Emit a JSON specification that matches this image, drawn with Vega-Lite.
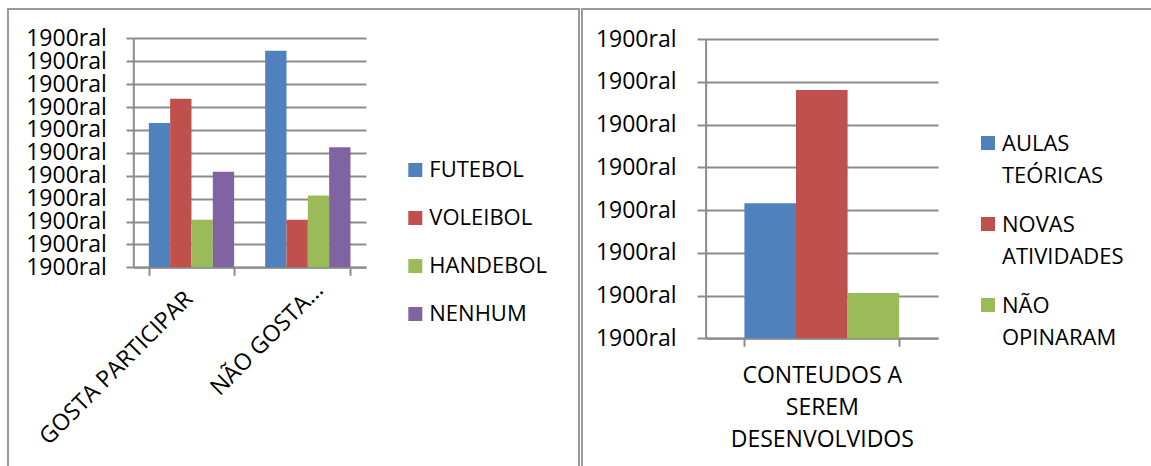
{
  "$schema": "https://vega.github.io/schema/vega-lite/v6.json",
  "background": "white",
  "padding": {"left": 7, "top": 8, "right": 0, "bottom": 0},
  "spacing": 1,
  "resolve": {"scale": {"color": "independent", "xOffset": "independent"}},
  "config": {
    "view": {"stroke": "#9a9a9a", "strokeWidth": 2},
    "font": "Open Sans",
    "axis": {
      "title": null,
      "labelFont": "Open Sans",
      "labelFontSize": 23,
      "labelColor": "#000000",
      "labelLimit": 400,
      "labelOverlap": false,
      "labelFlush": false,
      "domainColor": "#8c8c8c",
      "domainWidth": 2,
      "tickColor": "#8c8c8c",
      "tickWidth": 2,
      "gridColor": "#8c8c8c",
      "gridWidth": 2
    },
    "legend": {
      "title": null,
      "labelFont": "Open Sans",
      "labelFontSize": 22,
      "labelColor": "#000000",
      "labelLimit": 300,
      "symbolType": "square",
      "symbolStrokeWidth": 0,
      "symbolOpacity": 1,
      "padding": 0,
      "orient": "none"
    }
  },
  "hconcat": [
    {
      "width": 571,
      "height": 470,
      "data": {
        "values": [
          {"grupo": "GOSTA PARTICIPAR", "esporte": "FUTEBOL", "valor": 6.3},
          {"grupo": "GOSTA PARTICIPAR", "esporte": "VOLEIBOL", "valor": 7.36},
          {"grupo": "GOSTA PARTICIPAR", "esporte": "HANDEBOL", "valor": 2.08},
          {"grupo": "GOSTA PARTICIPAR", "esporte": "NENHUM", "valor": 4.17},
          {"grupo": "NÃO GOSTA...", "esporte": "FUTEBOL", "valor": 9.46},
          {"grupo": "NÃO GOSTA...", "esporte": "VOLEIBOL", "valor": 2.08},
          {"grupo": "NÃO GOSTA...", "esporte": "HANDEBOL", "valor": 3.14},
          {"grupo": "NÃO GOSTA...", "esporte": "NENHUM", "valor": 5.24}
        ]
      },
      "mark": {"type": "bar"},
      "encoding": {
        "x": {
          "field": "grupo",
          "type": "nominal",
          "scale": {
            "domain": ["GOSTA PARTICIPAR", "NÃO GOSTA..."],
            "range": [125.3, 358],
            "paddingInner": 0.267,
            "paddingOuter": 0.1335
          },
          "axis": {
            "orient": "bottom",
            "offset": -211.7,
            "labelAngle": -45,
            "tickBand": "extent",
            "tickSize": 8,
            "labelPadding": {"condition": {"test": "datum.value == 'GOSTA PARTICIPAR'", "value": 12}, "value": 3},
            "labelOffset": {"condition": {"test": "datum.value == 'GOSTA PARTICIPAR'", "value": -10.6}, "value": 3.5}
          }
        },
        "xOffset": {
          "field": "esporte",
          "type": "nominal",
          "scale": {
            "domain": ["FUTEBOL", "VOLEIBOL", "HANDEBOL", "NENHUM"],
            "paddingInner": 0,
            "paddingOuter": 0
          }
        },
        "y": {
          "field": "valor",
          "type": "quantitative",
          "scale": {"domain": [0, 10], "range": [258.3, 29.3], "nice": false},
          "axis": {
            "values": [0, 1, 2, 3, 4, 5, 6, 7, 8, 9, 10],
            "offset": -125.3,
            "labelExpr": "'1900ral'",
            "tickSize": 7.3,
            "labelPadding": 19.7,
            "grid": true
          }
        },
        "color": {
          "field": "esporte",
          "type": "nominal",
          "scale": {
            "domain": ["FUTEBOL", "VOLEIBOL", "HANDEBOL", "NENHUM"],
            "range": ["#4F81BD", "#C0504D", "#9BBB59", "#8064A2"]
          },
          "legend": {
            "legendX": 396.3,
            "legendY": 150,
            "symbolSize": 196,
            "labelOffset": 3,
            "rowPadding": 26
          }
        }
      }
    },
    {
      "width": 580,
      "height": 470,
      "data": {
        "values": [
          {"conteudo": "CONTEUDOS A SEREM DESENVOLVIDOS", "opcao": "AULAS TEÓRICAS", "valor": 3.16},
          {"conteudo": "CONTEUDOS A SEREM DESENVOLVIDOS", "opcao": "NOVAS ATIVIDADES", "valor": 5.81},
          {"conteudo": "CONTEUDOS A SEREM DESENVOLVIDOS", "opcao": "NÃO OPINARAM", "valor": 1.06}
        ]
      },
      "mark": {"type": "bar"},
      "encoding": {
        "x": {
          "field": "conteudo",
          "type": "nominal",
          "scale": {
            "domain": ["CONTEUDOS A SEREM DESENVOLVIDOS"],
            "range": [123.6, 356],
            "paddingInner": 0.334,
            "paddingOuter": 0.167
          },
          "axis": {
            "orient": "bottom",
            "offset": -140.7,
            "labelAngle": 0,
            "labelAlign": "center",
            "labelBaseline": "top",
            "labelLineHeight": 32,
            "labelExpr": "datum.label == 'CONTEUDOS A SEREM DESENVOLVIDOS' ? ['CONTEUDOS A', 'SEREM', 'DESENVOLVIDOS'] : datum.label",
            "tickBand": "extent",
            "tickSize": 8,
            "labelPadding": 18
          }
        },
        "xOffset": {
          "field": "opcao",
          "type": "nominal",
          "scale": {
            "domain": ["AULAS TEÓRICAS", "NOVAS ATIVIDADES", "NÃO OPINARAM"],
            "paddingInner": 0,
            "paddingOuter": 0
          }
        },
        "y": {
          "field": "valor",
          "type": "quantitative",
          "scale": {"domain": [0, 7], "range": [329.3, 30], "nice": false},
          "axis": {
            "values": [0, 1, 2, 3, 4, 5, 6, 7],
            "offset": -123.6,
            "labelExpr": "'1900ral'",
            "tickSize": 8.6,
            "labelPadding": 21,
            "grid": true
          }
        },
        "color": {
          "field": "opcao",
          "type": "nominal",
          "scale": {
            "domain": ["AULAS TEÓRICAS", "NOVAS ATIVIDADES", "NÃO OPINARAM"],
            "range": ["#4F81BD", "#C0504D", "#9BBB59"]
          },
          "legend": {
            "legendX": 395,
            "legendY": 123,
            "symbolSize": 196,
            "labelOffset": 3,
            "rowPadding": 26,
            "labelBaseline": "alphabetic",
            "labelExpr": "split(datum.label, ' ')",
            "encode": {
              "labels": {"update": {"lineHeight": {"value": 31.5}, "dy": {"value": 8}}}
            }
          }
        }
      }
    }
  ]
}
